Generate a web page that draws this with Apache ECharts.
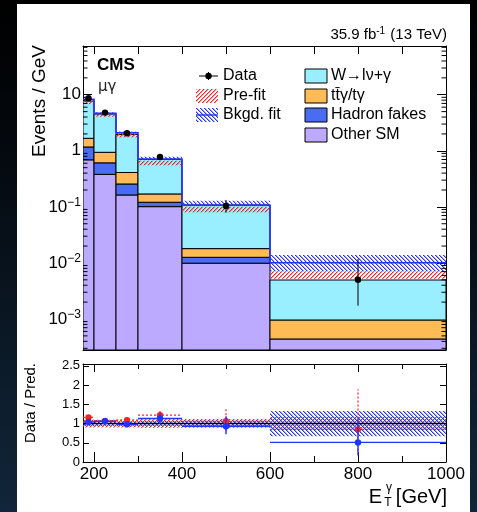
<!DOCTYPE html>
<html><head><meta charset="utf-8">
<script src="https://cdn.jsdelivr.net/npm/echarts@6/dist/echarts.min.js"></script>
<style>
html,body{margin:0;padding:0;width:477px;height:512px;overflow:hidden;
background:linear-gradient(180deg,#000000 0%,#050b12 35%,#0c1c2b 75%,#11263a 100%);}
#panel{position:absolute;left:17px;top:4px;width:453px;height:508px;background:#fff;}
#c{position:absolute;left:0;top:0;width:477px;height:512px;}
</style>
</head><body><div id="panel"></div><div id="c"></div>
<script>
// ---------------- data ----------------
const binEdges = [175, 200, 250, 300, 400, 600, 1000];
const otherSM     = [0.69, 0.38, 0.163, 0.101, 0.0099, 0.00044];
const hadronFakes = [0.48, 0.23, 0.093, 0.020, 0.0027, 0];
const ttGamma     = [0.50, 0.33, 0.154, 0.049, 0.0054, 0.00052];
const wGamma      = [6.03, 3.59, 1.54, 0.53, 0.090, 0.0040];
const fitTotal  = [8.3, 4.66, 2.10, 0.714, 0.107, 0.0101];
const fitBandLo = [8.0, 4.45, 2.00, 0.686, 0.104, 0.0071];
const fitBandHi = [8.6, 4.85, 2.20, 0.785, 0.129, 0.0139];
const preBandLo = [6.8, 4.05, 1.74, 0.552, 0.080, 0.0052];
const preBandHi = [7.9, 4.66, 2.05, 0.667, 0.101, 0.0071];
const dataX  = [187.5, 225, 275, 350, 500, 800];
const dataY  = [8.7, 4.8, 2.05, 0.775, 0.104, 0.0050];
const dataLo = [8.3, 4.6, 1.92, 0.70, 0.079, 0.00173];
const dataHi = [9.1, 5.0, 2.18, 0.85, 0.133, 0.0118];
const ratioPre   = [1.16, 1.07, 1.09, 1.22, 1.06, 0.85];
const ratioPreLo = [1.10, 1.01, 1.02, 1.07, 0.80, 0.30];
const ratioPreHi = [1.22, 1.13, 1.16, 1.37, 1.41, 1.89];
const ratioFit   = [1.04, 1.06, 0.98, 1.13, 0.93, 0.51];
const ratioFitLo = [0.98, 1.00, 0.91, 0.99, 0.72, 0.17];
const ratioFitHi = [1.10, 1.12, 1.05, 1.27, 1.19, 1.13];
const ratioPreBandLo = [0.90, 0.90, 0.90, 0.89, 0.89, 0.83];
const ratioPreBandHi = [1.10, 1.10, 1.10, 1.12, 1.12, 1.17];
const ratioFitBandLo = [0.94, 0.94, 0.94, 0.93, 0.92, 0.67];
const ratioFitBandHi = [1.06, 1.06, 1.06, 1.07, 1.08, 1.33];
const xMajorTicks = [200, 400, 600, 800, 1000];
const xMinorTicks = [300, 500, 700, 900];
const xAllTicks = [200, 300, 400, 500, 600, 700, 800, 900, 1000];
const xMin = 175, xMax = 1000;
const yLogMin = 2.8e-4, yLogMax = 74;
const ratioMin = 0, ratioMax = 2.55;

// ---------------- helpers ----------------
const FONT = 'Liberation Sans, Arial, Helvetica, sans-serif';
const C_W = '#99eeff', C_TT = '#ffbb55', C_HF = '#4a6cf2', C_OSM = '#bbaaff';
const RED = '#ff2020', BLUE = '#2233ff';
const nBins = binEdges.length - 1;
const bins = Array.from({length: nBins}, (_, i) => i);

function hatch(rgb, up, s) {
  const c = document.createElement('canvas'); c.width = s; c.height = s;
  const g = c.getContext('2d');
  const img = g.createImageData(s, s);
  for (let y = 0; y < s; y++) for (let x = 0; x < s; x++) {
    const m = ((up ? x + y : x - y) % s + s) % s;
    const idx = (y * s + x) * 4;
    let a = 0;
    if (m === 0) a = 255; else if (m === 1) a = 110;
    img.data[idx] = rgb[0]; img.data[idx + 1] = rgb[1]; img.data[idx + 2] = rgb[2]; img.data[idx + 3] = a;
  }
  g.putImageData(img, 0, 0);
  return {image: c, repeat: 'repeat'};
}
const redHatch = hatch([255, 32, 32], true, 4);
const blueHatch = hatch([34, 51, 255], false, 4);

function rectRender(fill, stroke, lw) {
  return function (params, api) {
    const x0 = api.value(0), x1 = api.value(1), y0 = api.value(2), y1 = api.value(3);
    if (!(y1 > y0)) return null;
    const p0 = api.coord([x0, y0]), p1 = api.coord([x1, y1]);
    return {type: 'rect',
      shape: {x: p0[0], y: p1[1], width: p1[0] - p0[0], height: p0[1] - p1[1]},
      style: {fill: fill, stroke: stroke, lineWidth: lw}};
  };
}
function rectSeries(name, items, fill, stroke, lw, xi, yi) {
  return {type: 'custom', name: name, xAxisIndex: xi, yAxisIndex: yi, clip: true,
    encode: {x: [0, 1], y: [2, 3]}, data: items, renderItem: rectRender(fill, stroke, lw), z: 2};
}

// stacked components
const comps = [otherSM, hadronFakes, ttGamma, wGamma];
const compColors = [C_OSM, C_HF, C_TT, C_W];
const stackSeries = [];
const running = bins.map(() => 0);
comps.forEach((arr, k) => {
  const items = bins.map(i => {
    const lo = k === 0 ? yLogMin : running[i];
    const hi = running[i] + arr[i];
    return [binEdges[i], binEdges[i + 1], lo, hi];
  });
  bins.forEach(i => { running[i] += arr[i]; });
  stackSeries.push(rectSeries('comp' + k, items, compColors[k], '#000', 1, 0, 0));
});

const bandItems = (lo, hi) => bins.map(i => [binEdges[i], binEdges[i + 1], lo[i], hi[i]]);

// minor log ticks
const minorLog = [];
for (let e = -4; e <= 1; e++) for (let k = 2; k <= 9; k++) {
  const v = k * Math.pow(10, e);
  if (v > yLogMin && v < yLogMax) minorLog.push([v]);
}

function xAx(grid, pos, ticks, len, showLine, labels) {
  return {type: 'value', gridIndex: grid, position: pos, min: xMin, max: xMax,
    axisLine: {show: showLine, onZero: false, lineStyle: {color: '#000', width: 1}},
    axisTick: {show: true, inside: true, length: len, customValues: ticks, lineStyle: {color: '#000', width: 1}},
    axisLabel: labels ? {show: true, customValues: xMajorTicks, fontSize: 17, fontFamily: FONT, color: '#000', margin: 4,
                          formatter: v => String(Math.round(v))}
                      : {show: false},
    splitLine: {show: false}};
}
function logFmt(v) {
  const e = Math.log10(v), r = Math.round(e);
  if (Math.abs(e - r) > 1e-6) return '';
  if (r === 0) return '{b|1}';
  if (r === 1) return '{b|10}';
  return '{b|10}{s|\u2212' + (-r) + '}';
}
function ratioFmt(v) {
  if (Math.abs(v * 2 - Math.round(v * 2)) > 1e-6) return '';
  return String(Math.round(v * 2) / 2);
}
function yLog(pos, labels) {
  return {type: 'log', logBase: 10, gridIndex: 0, position: pos, min: yLogMin, max: yLogMax,
    axisLine: {show: true, onZero: false, lineStyle: {color: '#000', width: 1}},
    axisTick: {show: true, inside: true, length: 9, lineStyle: {color: '#000'}},
    axisLabel: labels ? {show: true, margin: 2, formatter: logFmt, color: '#000',
      rich: {b: {fontSize: 17, fontFamily: FONT, color: '#000'},
             s: {fontSize: 12, fontFamily: FONT, color: '#000', verticalAlign: 'top', padding: [0, 0, 9, 0]}}}
      : {show: false},
    splitLine: {show: false}, minorTick: {show: false}};
}
function yRatio(pos, labels) {
  return {type: 'value', gridIndex: 1, position: pos, min: ratioMin, max: ratioMax, interval: 0.5,
    axisLine: {show: true, onZero: false, lineStyle: {color: '#000', width: 1}},
    axisTick: {show: true, inside: true, length: 6, lineStyle: {color: '#000'}},
    axisLabel: labels ? {show: true, margin: 3, fontSize: 13, fontFamily: FONT, color: '#000', formatter: ratioFmt}
                      : {show: false},
    splitLine: {show: false}};
}

// ratio point renderer
function ratioRender(color, dashed) {
  return function (params, api) {
    const x0 = api.value(0), x1 = api.value(1), xc = api.value(2), r = api.value(3), lo = api.value(4), hi = api.value(5);
    const pl = api.coord([x0, r]), pr = api.coord([x1, r]), pc = api.coord([xc, r]);
    const plo = api.coord([xc, lo]), phi = api.coord([xc, hi]);
    const ls = {stroke: color, lineWidth: dashed ? 1.2 : 1.4, lineDash: dashed ? [2, 2] : null};
    return {type: 'group', children: [
      {type: 'line', shape: {x1: pl[0], y1: pl[1], x2: pr[0], y2: pr[1]}, style: ls},
      {type: 'line', shape: {x1: plo[0], y1: plo[1], x2: phi[0], y2: phi[1]}, style: ls},
      {type: 'circle', shape: {cx: pc[0], cy: pc[1], r: 3.2}, style: {fill: color}}
    ]};
  };
}

const series = [
  ...stackSeries,
  rectSeries('prefit', bandItems(preBandLo, preBandHi), redHatch, null, 0, 0, 0),
  rectSeries('bkgfit', bandItems(fitBandLo, fitBandHi), blueHatch, null, 0, 0, 0),
  { // fit step line
    type: 'custom', name: 'fitline', xAxisIndex: 0, yAxisIndex: 0, clip: true, z: 3,
    encode: {x: [0, 1], y: [2]},
    data: bins.map(i => [binEdges[i], binEdges[i + 1], fitTotal[i], i < nBins - 1 ? fitTotal[i + 1] : fitTotal[i]]),
    renderItem: function (params, api) {
      const a = api.coord([api.value(0), api.value(2)]), b = api.coord([api.value(1), api.value(2)]);
      const c = api.coord([api.value(1), api.value(3)]);
      return {type: 'polyline', shape: {points: [a, b, c]}, style: {stroke: BLUE, lineWidth: 1.6, fill: null}};
    }
  },
  { // data points
    type: 'custom', name: 'data', xAxisIndex: 0, yAxisIndex: 0, clip: true, z: 4,
    encode: {x: [0], y: [1, 2, 3]},
    data: bins.map(i => [dataX[i], dataY[i], dataLo[i], dataHi[i]]),
    renderItem: function (params, api) {
      const p = api.coord([api.value(0), api.value(1)]);
      const lo = api.coord([api.value(0), api.value(2)]), hi = api.coord([api.value(0), api.value(3)]);
      return {type: 'group', children: [
        {type: 'line', shape: {x1: lo[0], y1: lo[1], x2: hi[0], y2: hi[1]}, style: {stroke: '#000', lineWidth: 1}},
        {type: 'circle', shape: {cx: p[0], cy: p[1], r: 3.2}, style: {fill: '#000'}}
      ]};
    }
  },
  { // minor log ticks (left and right)
    type: 'custom', name: 'minorTicks', xAxisIndex: 0, yAxisIndex: 0, z: 5, silent: true,
    encode: {y: [0]}, data: minorLog,
    renderItem: function (params, api) {
      const p = api.coord([xMin, api.value(0)]);
      const cs = params.coordSys;
      return {type: 'group', children: [
        {type: 'line', shape: {x1: cs.x, y1: p[1], x2: cs.x + 4.5, y2: p[1]}, style: {stroke: '#000', lineWidth: 1}},
        {type: 'line', shape: {x1: cs.x + cs.width, y1: p[1], x2: cs.x + cs.width - 4.5, y2: p[1]}, style: {stroke: '#000', lineWidth: 1}}
      ]};
    }
  },
  // ratio panel
  rectSeries('rPre', bandItems(ratioPreBandLo, ratioPreBandHi), redHatch, null, 0, 3, 2),
  rectSeries('rFit', bandItems(ratioFitBandLo, ratioFitBandHi), blueHatch, null, 0, 3, 2),
  {
    type: 'custom', name: 'unity', xAxisIndex: 3, yAxisIndex: 2, z: 3, encode: {y: [0]}, data: [[1]],
    renderItem: function (params, api) {
      const p = api.coord([xMin, api.value(0)]); const cs = params.coordSys;
      return {type: 'line', shape: {x1: cs.x, y1: p[1], x2: cs.x + cs.width, y2: p[1]}, style: {stroke: '#000', lineWidth: 1.4}};
    }
  },
  {
    type: 'custom', name: 'ratioPre', xAxisIndex: 3, yAxisIndex: 2, z: 4, clip: true,
    encode: {x: [0, 1], y: [3, 4, 5]},
    data: bins.map(i => [binEdges[i], binEdges[i + 1], dataX[i], ratioPre[i], ratioPreLo[i], ratioPreHi[i]]),
    renderItem: ratioRender(RED, true)
  },
  {
    type: 'custom', name: 'ratioFit', xAxisIndex: 3, yAxisIndex: 2, z: 5, clip: true,
    encode: {x: [0, 1], y: [3, 4, 5]},
    data: bins.map(i => [binEdges[i], binEdges[i + 1], dataX[i], ratioFit[i], ratioFitLo[i], ratioFitHi[i]]),
    renderItem: ratioRender(BLUE, false)
  }
];

// legend graphics
const LX1 = 196, LX2 = 305, TX1 = 223, TX2 = 331;
const rows = [76, 96, 115, 135];
const txt = (x, y, s) => ({type: 'text', x: x, y: y, z: 10,
  style: {text: s, fontSize: 16, fontFamily: FONT, fill: '#000', align: 'left', verticalAlign: 'middle'}});
const graphic = [
  {type: 'text', x: 447, y: 35, style: {text: '{a|35.9 fb}{s|-1}{a| (13 TeV)}', align: 'right', verticalAlign: 'middle',
    rich: {a: {fontSize: 15, fontFamily: FONT, fill: '#000'}, s: {fontSize: 10, fontFamily: FONT, fill: '#000', verticalAlign: 'top', padding: [0, 1, 8, 0]}}}},
  {type: 'text', x: 97, y: 65, style: {text: 'CMS', fontSize: 17, fontWeight: 'bold', fontFamily: FONT, fill: '#000', align: 'left', verticalAlign: 'middle'}},
  {type: 'text', x: 98, y: 87, style: {text: 'μγ', fontSize: 15, fontFamily: 'DejaVu Sans, ' + FONT, fill: '#222', align: 'left', verticalAlign: 'middle'}},
  {type: 'text', x: 40, y: 45, rotation: Math.PI / 2, style: {text: 'Events / GeV', fontSize: 19, fontFamily: FONT, fill: '#000', align: 'right', verticalAlign: 'middle'}},
  {type: 'text', x: 31, y: 363, rotation: Math.PI / 2, style: {text: 'Data / Pred.', fontSize: 15, fontFamily: FONT, fill: '#000', align: 'right', verticalAlign: 'middle'}},
  {type: 'text', x: 447, y: 497, style: {text: '[GeV]', fontSize: 20, fontFamily: FONT, fill: '#000', align: 'right', verticalAlign: 'middle'}},
  {type: 'text', x: 389, y: 488, style: {text: 'γ', fontSize: 12, fontFamily: FONT, fill: '#000', align: 'center', verticalAlign: 'middle'}},
  {type: 'text', x: 388, y: 503, style: {text: 'T', fontSize: 12, fontFamily: FONT, fill: '#000', align: 'center', verticalAlign: 'middle'}},
  {type: 'text', x: 382, y: 497, style: {text: 'E', fontSize: 20, fontFamily: FONT, fill: '#000', align: 'right', verticalAlign: 'middle'}},
  {type: 'line', shape: {x1: 199, y1: rows[0], x2: 218, y2: rows[0]}, style: {stroke: '#000', lineWidth: 1}},
  {type: 'line', shape: {x1: 208.5, y1: rows[0] - 4, x2: 208.5, y2: rows[0] + 4}, style: {stroke: '#000', lineWidth: 1}},
  {type: 'circle', shape: {cx: 208.5, cy: rows[0], r: 3.2}, style: {fill: '#000'}},
  txt(TX1, rows[0], 'Data'),
  {type: 'rect', shape: {x: LX1, y: rows[1] - 7, width: 22, height: 14}, style: {fill: redHatch}},
  txt(TX1, rows[1], 'Pre-fit'),
  {type: 'rect', shape: {x: LX1, y: rows[2] - 7, width: 22, height: 14}, style: {fill: blueHatch}},
  {type: 'line', shape: {x1: LX1, y1: rows[2], x2: LX1 + 22, y2: rows[2]}, style: {stroke: BLUE, lineWidth: 1.4}},
  txt(TX1, rows[2], 'Bkgd. fit'),
  {type: 'rect', shape: {x: LX2, y: rows[0] - 7, width: 22, height: 14}, style: {fill: C_W, stroke: '#000', lineWidth: 1}},
  txt(TX2, rows[0], 'W\u2192l\u03bd+\u03b3'),
  {type: 'rect', shape: {x: LX2, y: rows[1] - 7, width: 22, height: 14}, style: {fill: C_TT, stroke: '#000', lineWidth: 1}},
  txt(TX2, rows[1], 'tt\u0304\u03b3/t\u03b3'),
  {type: 'rect', shape: {x: LX2, y: rows[2] - 7, width: 22, height: 14}, style: {fill: C_HF, stroke: '#000', lineWidth: 1}},
  txt(TX2, rows[2], 'Hadron fakes'),
  {type: 'rect', shape: {x: LX2, y: rows[3] - 7, width: 22, height: 14}, style: {fill: C_OSM, stroke: '#000', lineWidth: 1}},
  txt(TX2, rows[3], 'Other SM')
];

const option = {
  animation: false,
  backgroundColor: 'transparent',
  grid: [
    {left: 83, top: 46, width: 363, height: 304, containLabel: false},
    {left: 83, top: 364, width: 363, height: 98, containLabel: false}
  ],
  xAxis: [
    xAx(0, 'bottom', xMajorTicks, 10, true, false),
    xAx(0, 'bottom', xMinorTicks, 6, false, false),
    xAx(0, 'top', xAllTicks, 8, true, false),
    xAx(1, 'bottom', xMajorTicks, 10, true, true),
    xAx(1, 'bottom', xMinorTicks, 6, false, false),
    xAx(1, 'top', xMajorTicks, 8, true, false),
    xAx(1, 'top', xMinorTicks, 5, false, false)
  ],
  yAxis: [yLog('left', true), yLog('right', false), yRatio('left', true), yRatio('right', false)],
  series: series,
  graphic: graphic
};
const chart = echarts.init(document.getElementById('c'), null, {renderer: 'canvas', width: 477, height: 512});
chart.setOption(option);
</script>
</body></html>
